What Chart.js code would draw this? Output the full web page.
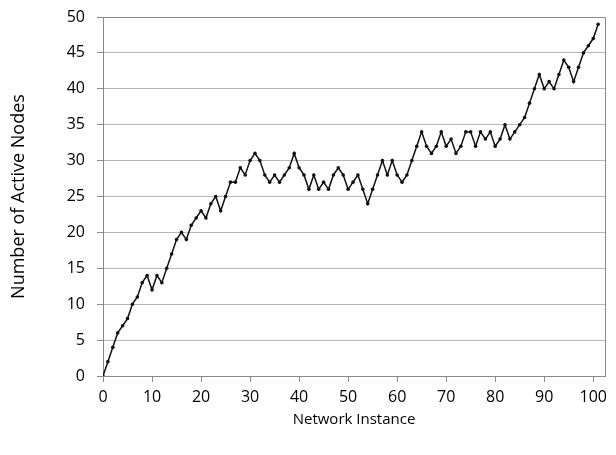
<!DOCTYPE html>
<html>
<head>
    <title>Number of Active Nodes per Network Instance</title>
    <style>
        body { margin: 0; padding: 0; background: #fff; }
        #chartBox { width: 616px; height: 455px; }
    </style>
    <script src="https://cdn.jsdelivr.net/npm/chart.js"></script>
</head>
<body>
    <div id="chartBox">
        <canvas id="nodesChart" width="616" height="455"></canvas>
    </div>

    <script>
        // values, one per network instance (0..101)
        const activeNodes = [
            0, 2, 4, 6, 7, 8, 10, 11, 13, 14,
            12, 14, 13, 15, 17, 19, 20, 19, 21, 22,
            23, 22, 24, 25, 23, 25, 27, 27, 29, 28,
            30, 31, 30, 28, 27, 28, 27, 28, 29, 31,
            29, 28, 26, 28, 26, 27, 26, 28, 29, 28,
            26, 27, 28, 26, 24, 26, 28, 30, 28, 30,
            28, 27, 28, 30, 32, 34, 32, 31, 32, 34,
            32, 33, 31, 32, 34, 34, 32, 34, 33, 34,
            32, 33, 35, 33, 34, 35, 36, 38, 40, 42,
            40, 41, 40, 42, 44, 43, 41, 43, 45, 46,
            47, 49
        ];
        const xTickValues = [0, 10, 20, 30, 40, 50, 60, 70, 80, 90, 100];
        const yTickValues = [0, 5, 10, 15, 20, 25, 30, 35, 40, 45, 50];

        const points = activeNodes.map((v, i) => ({ x: i, y: v }));

        const fontFamily = "'Open Sans', 'Liberation Sans', sans-serif";

        // frame round the plot area (top and right sides)
        const frameLines = {
            id: 'frameLines',
            afterDraw(chart) {
                const { ctx, chartArea } = chart;
                ctx.save();
                ctx.strokeStyle = '#8a8a8a';
                ctx.lineWidth = 1;
                ctx.beginPath();
                ctx.moveTo(chartArea.left, chartArea.top + 0.5);
                ctx.lineTo(chartArea.right + 0.5, chartArea.top + 0.5);
                ctx.lineTo(chartArea.right + 0.5, chartArea.bottom);
                ctx.stroke();
                ctx.restore();
            }
        };

        const ctx = document.getElementById('nodesChart').getContext('2d');
        new Chart(ctx, {
            type: 'line',
            data: {
                datasets: [{
                    label: 'Active Nodes',
                    data: points,
                    borderColor: '#111',
                    borderWidth: 1.5,
                    pointRadius: 1.8,
                    pointBackgroundColor: '#111',
                    pointBorderWidth: 0,
                    tension: 0
                }]
            },
            options: {
                responsive: false,
                animation: false,
                layout: { padding: { top: 17, right: 11, left: 0, bottom: 0 } },
                plugins: {
                    legend: { display: false },
                    tooltip: { enabled: false }
                },
                scales: {
                    x: {
                        type: 'linear',
                        min: 0,
                        max: 102.4,
                        afterFit(scale) {
                            scale.height = 79;
                            scale.paddingLeft = 0;
                            scale.paddingRight = 0;
                        },
                        afterBuildTicks(scale) {
                            scale.ticks = xTickValues.map(v => ({ value: v }));
                        },
                        ticks: {
                            color: '#000',
                            padding: 6,
                            maxRotation: 0,
                            font: { family: fontFamily, size: 16 }
                        },
                        grid: {
                            drawOnChartArea: false,
                            drawTicks: true,
                            tickLength: 6,
                            color: '#8a8a8a'
                        },
                        border: { display: true, color: '#8a8a8a' },
                        title: {
                            display: true,
                            text: 'Network Instance',
                            color: '#000',
                            padding: { top: 0, bottom: 26 },
                            font: { family: fontFamily, size: 15 }
                        }
                    },
                    y: {
                        min: 0,
                        max: 50,
                        afterFit(scale) {
                            scale.width = 103;
                            scale.paddingTop = 0;
                            scale.paddingBottom = 0;
                        },
                        afterBuildTicks(scale) {
                            scale.ticks = yTickValues.map(v => ({ value: v }));
                        },
                        ticks: {
                            color: '#000',
                            padding: 12,
                            font: { family: fontFamily, size: 16 }
                        },
                        grid: {
                            color: '#b8b8b8',
                            tickColor: '#8a8a8a',
                            tickLength: 6
                        },
                        border: { display: true, color: '#8a8a8a' },
                        title: {
                            display: true,
                            text: 'Number of Active Nodes',
                            color: '#000',
                            padding: { top: 8, bottom: 0 },
                            font: { family: fontFamily, size: 18 }
                        }
                    }
                }
            },
            plugins: [frameLines]
        });
    </script>
</body>
</html>
